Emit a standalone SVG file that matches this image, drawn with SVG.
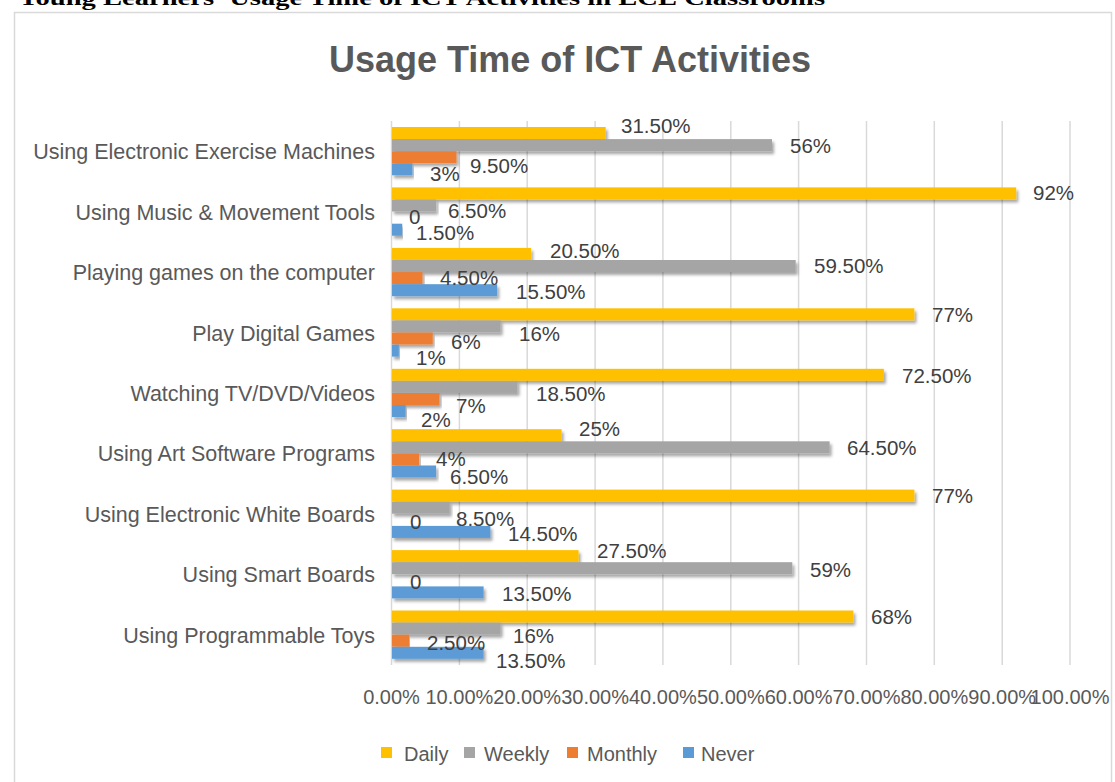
<svg xmlns="http://www.w3.org/2000/svg" width="1115" height="782" viewBox="0 0 1115 782">
<defs>
<filter id="sh" x="-5%" y="-50%" width="110%" height="220%">
<feDropShadow dx="2" dy="3" stdDeviation="1.5" flood-color="#000" flood-opacity="0.35"/>
</filter>
<style>
.d{fill:#FFC000}.w{fill:#A5A5A5}.m{fill:#ED7D31}.n{fill:#5B9BD5}
.bar{filter:url(#sh)}
.cat{font-family:"Liberation Sans",Arial,sans-serif;font-size:21.5px;fill:#595959;text-anchor:end}
.lbl{font-family:"Liberation Sans",Arial,sans-serif;font-size:20.5px;fill:#404040}
.tick{font-family:"Liberation Sans",Arial,sans-serif;font-size:20px;fill:#595959;text-anchor:middle}
.leg{font-family:"Liberation Sans",Arial,sans-serif;font-size:20px;fill:#595959}
.grid{stroke:#D9D9D9;stroke-width:1.5}
</style>
</defs>
<rect width="1115" height="782" fill="#fff"/>
<text x="18" y="5" font-family="'Liberation Serif','Times New Roman',serif" font-weight="bold" font-size="22" fill="#000" textLength="807" lengthAdjust="spacingAndGlyphs">Young Learners' Usage Time of ICT Activities in ECE Classrooms</text>
<rect id="chart-frame" x="14.5" y="12.5" width="1097" height="800" fill="#fff" stroke="#D9D9D9" stroke-width="1.5"/>
<text id="title" x="570" y="72" font-family="'Liberation Sans',Arial,sans-serif" font-weight="bold" font-size="36" fill="#595959" text-anchor="middle">Usage Time of ICT Activities</text>
<g id="gridlines">
<line class="grid" x1="391.5" y1="121" x2="391.5" y2="665"/>
<line class="grid" x1="459.4" y1="121" x2="459.4" y2="665"/>
<line class="grid" x1="527.2" y1="121" x2="527.2" y2="665"/>
<line class="grid" x1="595.1" y1="121" x2="595.1" y2="665"/>
<line class="grid" x1="662.9" y1="121" x2="662.9" y2="665"/>
<line class="grid" x1="730.8" y1="121" x2="730.8" y2="665"/>
<line class="grid" x1="798.6" y1="121" x2="798.6" y2="665"/>
<line class="grid" x1="866.5" y1="121" x2="866.5" y2="665"/>
<line class="grid" x1="934.3" y1="121" x2="934.3" y2="665"/>
<line class="grid" x1="1002.2" y1="121" x2="1002.2" y2="665"/>
<line class="grid" x1="1070" y1="121" x2="1070" y2="665"/>
</g>
<g id="bars">
<rect class="bar d" x="392" y="127" width="213.7" height="12"/>
<rect class="bar w" x="392" y="139.1" width="380" height="12"/>
<rect class="bar m" x="392" y="151.2" width="64.5" height="12"/>
<rect class="bar n" x="392" y="163.3" width="20.4" height="12"/>

<rect class="bar d" x="392" y="187.4" width="624.2" height="12"/>
<rect class="bar w" x="392" y="199.5" width="44.1" height="12"/>
<rect class="bar n" x="392" y="223.7" width="10.2" height="12"/>

<rect class="bar d" x="392" y="247.9" width="139.1" height="12"/>
<rect class="bar w" x="392" y="260" width="403.7" height="12"/>
<rect class="bar m" x="392" y="272.1" width="30.5" height="12"/>
<rect class="bar n" x="392" y="284.2" width="105.2" height="12"/>

<rect class="bar d" x="392" y="308.3" width="522.4" height="12"/>
<rect class="bar w" x="392" y="320.4" width="108.6" height="12"/>
<rect class="bar m" x="392" y="332.5" width="40.7" height="12"/>
<rect class="bar n" x="392" y="344.6" width="6.8" height="12"/>

<rect class="bar d" x="392" y="368.8" width="491.9" height="12"/>
<rect class="bar w" x="392" y="380.9" width="125.5" height="12"/>
<rect class="bar m" x="392" y="393" width="47.5" height="12"/>
<rect class="bar n" x="392" y="405.1" width="13.6" height="12"/>

<rect class="bar d" x="392" y="429.2" width="169.6" height="12"/>
<rect class="bar w" x="392" y="441.3" width="437.6" height="12"/>
<rect class="bar m" x="392" y="453.4" width="27.1" height="12"/>
<rect class="bar n" x="392" y="465.5" width="44.1" height="12"/>

<rect class="bar d" x="392" y="489.6" width="522.4" height="12"/>
<rect class="bar w" x="392" y="501.7" width="57.7" height="12"/>
<rect class="bar n" x="392" y="525.9" width="98.4" height="12"/>

<rect class="bar d" x="392" y="550.1" width="186.6" height="12"/>
<rect class="bar w" x="392" y="562.2" width="400.3" height="12"/>
<rect class="bar n" x="392" y="586.4" width="91.6" height="12"/>

<rect class="bar d" x="392" y="610.5" width="461.4" height="12"/>
<rect class="bar w" x="392" y="622.6" width="108.6" height="12"/>
<rect class="bar m" x="392" y="634.7" width="17" height="12"/>
<rect class="bar n" x="392" y="646.8" width="91.6" height="12"/>
</g>
<g id="category-labels">
<text class="cat" x="375" y="159.2">Using Electronic Exercise Machines</text>
<text class="cat" x="375" y="219.6">Using Music &amp; Movement Tools</text>
<text class="cat" x="375" y="280.1">Playing games on the computer</text>
<text class="cat" x="375" y="340.5">Play Digital Games</text>
<text class="cat" x="375" y="401">Watching TV/DVD/Videos</text>
<text class="cat" x="375" y="461.4">Using Art Software Programs</text>
<text class="cat" x="375" y="521.8">Using Electronic White Boards</text>
<text class="cat" x="375" y="582.3">Using Smart Boards</text>
<text class="cat" x="375" y="642.7">Using Programmable Toys</text>
</g>
<g id="data-labels">
<text class="lbl" x="621" y="133">31.50%</text>
<text class="lbl" x="790" y="153">56%</text>
<text class="lbl" x="470" y="173">9.50%</text>
<text class="lbl" x="430" y="181">3%</text>

<text class="lbl" x="1033" y="200">92%</text>
<text class="lbl" x="448" y="218">6.50%</text>
<text class="lbl" x="409" y="224">0</text>
<text class="lbl" x="416" y="240">1.50%</text>

<text class="lbl" x="550" y="258">20.50%</text>
<text class="lbl" x="814" y="273">59.50%</text>
<text class="lbl" x="440" y="285">4.50%</text>
<text class="lbl" x="516" y="299">15.50%</text>

<text class="lbl" x="932" y="322">77%</text>
<text class="lbl" x="519" y="341">16%</text>
<text class="lbl" x="451" y="349">6%</text>
<text class="lbl" x="416" y="365">1%</text>

<text class="lbl" x="902" y="383">72.50%</text>
<text class="lbl" x="536" y="401">18.50%</text>
<text class="lbl" x="456" y="413">7%</text>
<text class="lbl" x="421" y="427">2%</text>

<text class="lbl" x="579" y="436">25%</text>
<text class="lbl" x="847" y="455">64.50%</text>
<text class="lbl" x="436" y="466">4%</text>
<text class="lbl" x="450" y="484">6.50%</text>

<text class="lbl" x="932" y="503">77%</text>
<text class="lbl" x="456" y="526">8.50%</text>
<text class="lbl" x="410" y="529">0</text>
<text class="lbl" x="508" y="541">14.50%</text>

<text class="lbl" x="597" y="558">27.50%</text>
<text class="lbl" x="810" y="577">59%</text>
<text class="lbl" x="410" y="589">0</text>
<text class="lbl" x="502" y="601">13.50%</text>

<text class="lbl" x="871" y="624">68%</text>
<text class="lbl" x="513" y="643">16%</text>
<text class="lbl" x="427" y="650">2.50%</text>
<text class="lbl" x="496" y="668">13.50%</text>
</g>
<g id="x-axis-labels">
<text class="tick" x="391.5" y="704">0.00%</text>
<text class="tick" x="459.4" y="704">10.00%</text>
<text class="tick" x="527.2" y="704">20.00%</text>
<text class="tick" x="595.1" y="704">30.00%</text>
<text class="tick" x="662.9" y="704">40.00%</text>
<text class="tick" x="730.8" y="704">50.00%</text>
<text class="tick" x="798.6" y="704">60.00%</text>
<text class="tick" x="866.5" y="704">70.00%</text>
<text class="tick" x="934.3" y="704">80.00%</text>
<text class="tick" x="1002.2" y="704">90.00%</text>
<text class="tick" x="1070" y="704">100.00%</text>
</g>
<g id="legend">
<rect class="d" x="381" y="747" width="11" height="11"/>
<text class="leg" x="404" y="761">Daily</text>
<rect class="w" x="464" y="747" width="11" height="11"/>
<text class="leg" x="484" y="761">Weekly</text>
<rect class="m" x="567" y="747" width="11" height="11"/>
<text class="leg" x="587" y="761">Monthly</text>
<rect class="n" x="683" y="747" width="11" height="11"/>
<text class="leg" x="701" y="761">Never</text>
</g>
</svg>
